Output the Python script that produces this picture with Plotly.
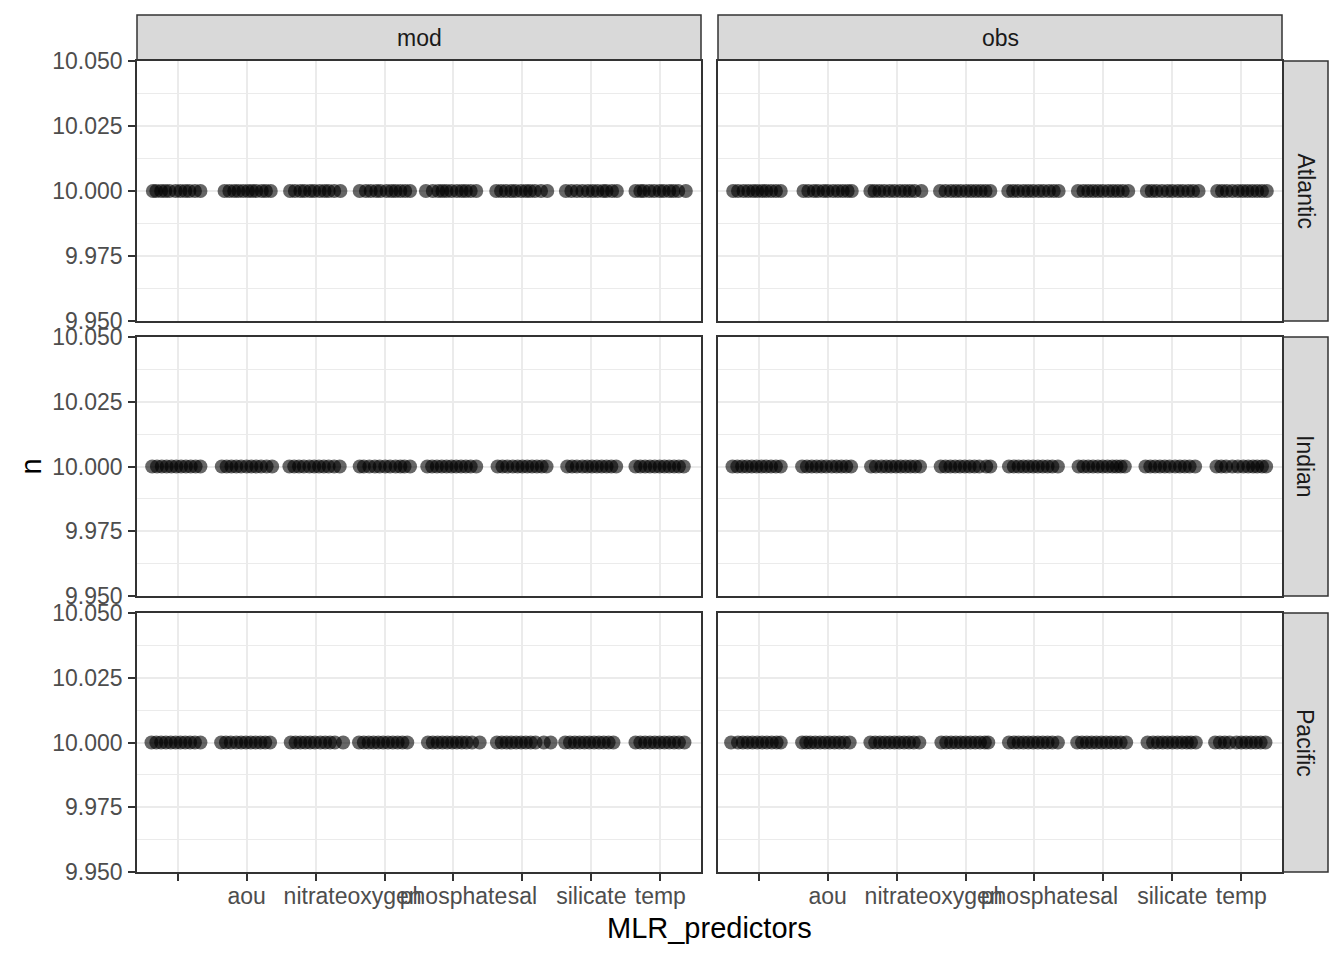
import plotly.graph_objects as go

# ---- data ----
categories = ["", "aou", "nitrate", "oxygen", "phosphate", "sal", "silicate", "temp"]
facet_cols = ["mod", "obs"]
facet_rows = ["Atlantic", "Indian", "Pacific"]
n_value = 10.0
y_ticks = [9.950, 9.975, 10.000, 10.025, 10.050]
y_ticklabels = ["9.950", "9.975", "10.000", "10.025", "10.050"]

# horizontal jitter offsets (category units), per panel and category
mod_atlantic = [
    [-0.36, -0.31, -0.24, -0.18, -0.12, -0.03, 0.04, 0.11, 0.17, 0.25, 0.33],
    [-0.32, -0.25, -0.18, -0.12, -0.05, 0.02, 0.08, 0.14, 0.22, 0.28, 0.35],
    [-0.37, -0.30, -0.22, -0.16, -0.08, -0.02, 0.06, 0.13, 0.19, 0.27, 0.36],
    [-0.36, -0.27, -0.20, -0.12, -0.06, 0.03, 0.10, 0.16, 0.23, 0.30, 0.37],
    [-0.40, -0.30, -0.22, -0.16, -0.10, -0.03, 0.05, 0.12, 0.18, 0.25, 0.33],
    [-0.38, -0.31, -0.24, -0.16, -0.10, -0.02, 0.05, 0.11, 0.18, 0.27, 0.36],
    [-0.37, -0.29, -0.21, -0.13, -0.05, 0.02, 0.09, 0.17, 0.22, 0.30, 0.37],
    [-0.36, -0.29, -0.24, -0.16, -0.09, -0.01, 0.05, 0.13, 0.19, 0.26, 0.37],
]
obs_atlantic = [
    [-0.37, -0.30, -0.22, -0.15, -0.08, -0.02, 0.05, 0.11, 0.18, 0.25, 0.32],
    [-0.35, -0.28, -0.20, -0.14, -0.06, 0.00, 0.08, 0.15, 0.22, 0.29, 0.35],
    [-0.38, -0.32, -0.25, -0.18, -0.10, -0.03, 0.05, 0.12, 0.19, 0.26, 0.36],
    [-0.37, -0.29, -0.21, -0.14, -0.07, 0.01, 0.08, 0.15, 0.22, 0.29, 0.36],
    [-0.38, -0.31, -0.24, -0.16, -0.09, -0.02, 0.06, 0.13, 0.21, 0.28, 0.35],
    [-0.37, -0.29, -0.22, -0.15, -0.08, -0.01, 0.07, 0.14, 0.21, 0.28, 0.36],
    [-0.37, -0.30, -0.23, -0.15, -0.07, 0.00, 0.08, 0.15, 0.23, 0.30, 0.38],
    [-0.35, -0.28, -0.21, -0.13, -0.05, 0.02, 0.09, 0.16, 0.23, 0.30, 0.37],
]
mod_indian = [
    [-0.37, -0.30, -0.23, -0.16, -0.09, -0.02, 0.05, 0.12, 0.19, 0.26, 0.33],
    [-0.36, -0.29, -0.22, -0.15, -0.08, 0.00, 0.07, 0.14, 0.21, 0.29, 0.37],
    [-0.38, -0.31, -0.24, -0.17, -0.09, -0.02, 0.05, 0.12, 0.19, 0.27, 0.35],
    [-0.36, -0.30, -0.22, -0.14, -0.07, 0.01, 0.08, 0.16, 0.23, 0.29, 0.37],
    [-0.38, -0.31, -0.24, -0.17, -0.10, -0.03, 0.04, 0.11, 0.18, 0.25, 0.33],
    [-0.36, -0.29, -0.22, -0.14, -0.07, 0.00, 0.07, 0.14, 0.21, 0.28, 0.35],
    [-0.35, -0.28, -0.21, -0.13, -0.06, 0.01, 0.08, 0.15, 0.22, 0.29, 0.36],
    [-0.36, -0.29, -0.22, -0.15, -0.08, -0.01, 0.06, 0.13, 0.20, 0.27, 0.34],
]
obs_indian = [
    [-0.38, -0.31, -0.24, -0.17, -0.10, -0.03, 0.04, 0.11, 0.18, 0.25, 0.32],
    [-0.37, -0.30, -0.23, -0.16, -0.09, -0.02, 0.06, 0.13, 0.20, 0.27, 0.34],
    [-0.37, -0.30, -0.22, -0.15, -0.08, -0.01, 0.06, 0.13, 0.20, 0.27, 0.34],
    [-0.36, -0.29, -0.22, -0.15, -0.08, -0.01, 0.06, 0.13, 0.20, 0.30, 0.36],
    [-0.37, -0.30, -0.23, -0.16, -0.09, -0.02, 0.05, 0.12, 0.19, 0.26, 0.34],
    [-0.36, -0.29, -0.22, -0.15, -0.08, -0.01, 0.06, 0.13, 0.19, 0.25, 0.31],
    [-0.39, -0.32, -0.25, -0.18, -0.11, -0.04, 0.04, 0.11, 0.18, 0.25, 0.33],
    [-0.36, -0.29, -0.22, -0.13, -0.05, 0.03, 0.10, 0.17, 0.23, 0.30, 0.36],
]
mod_pacific = [
    [-0.38, -0.31, -0.24, -0.17, -0.10, -0.03, 0.04, 0.11, 0.18, 0.25, 0.33],
    [-0.37, -0.30, -0.23, -0.15, -0.08, -0.01, 0.06, 0.13, 0.20, 0.27, 0.34],
    [-0.36, -0.29, -0.22, -0.15, -0.08, -0.01, 0.07, 0.14, 0.21, 0.28, 0.40],
    [-0.37, -0.30, -0.23, -0.16, -0.09, -0.02, 0.05, 0.12, 0.19, 0.26, 0.33],
    [-0.37, -0.30, -0.23, -0.16, -0.09, -0.02, 0.05, 0.12, 0.19, 0.27, 0.38],
    [-0.37, -0.30, -0.23, -0.16, -0.09, -0.02, 0.05, 0.12, 0.19, 0.31, 0.41],
    [-0.38, -0.31, -0.24, -0.17, -0.10, -0.03, 0.04, 0.11, 0.18, 0.25, 0.32],
    [-0.36, -0.29, -0.22, -0.15, -0.08, -0.01, 0.06, 0.13, 0.20, 0.27, 0.35],
]
obs_pacific = [
    [-0.40, -0.30, -0.23, -0.16, -0.09, -0.02, 0.05, 0.12, 0.19, 0.26, 0.32],
    [-0.37, -0.31, -0.25, -0.18, -0.11, -0.04, 0.03, 0.10, 0.17, 0.24, 0.32],
    [-0.38, -0.31, -0.24, -0.17, -0.10, -0.03, 0.04, 0.11, 0.18, 0.25, 0.33],
    [-0.35, -0.28, -0.21, -0.14, -0.07, 0.00, 0.07, 0.14, 0.21, 0.28, 0.33],
    [-0.37, -0.30, -0.23, -0.16, -0.09, -0.02, 0.05, 0.12, 0.19, 0.26, 0.34],
    [-0.38, -0.31, -0.24, -0.17, -0.10, -0.03, 0.04, 0.11, 0.18, 0.25, 0.33],
    [-0.36, -0.28, -0.21, -0.14, -0.07, 0.00, 0.07, 0.14, 0.21, 0.27, 0.34],
    [-0.38, -0.31, -0.24, -0.17, -0.07, 0.00, 0.07, 0.14, 0.21, 0.28, 0.35],
]
panel_offsets = {
    ("Atlantic", "mod"): mod_atlantic, ("Atlantic", "obs"): obs_atlantic,
    ("Indian", "mod"): mod_indian, ("Indian", "obs"): obs_indian,
    ("Pacific", "mod"): mod_pacific, ("Pacific", "obs"): obs_pacific,
}

# ---- layout geometry (pixels) ----
W, H = 1344, 960
col_px = [(137, 701), (718, 1282)]
row_px = [(61, 321), (337, 596), (613, 872)]
strip_top = (15, 60)
strip_right = (1283, 1328)

def fx(p):
    return p / W

def fy(p):
    return 1 - p / H

AX_TEXT = dict(family="Liberation Sans, Arial, sans-serif", size=23, color="#4D4D4D")
STRIP_TEXT = dict(family="Liberation Sans, Arial, sans-serif", size=23, color="#1A1A1A")
TITLE_TEXT = dict(family="Liberation Sans, Arial, sans-serif", size=29, color="#000000")

fig = go.Figure()
shapes = []
annotations = []
layout_axes = {}
idx = 0
for ri, rname in enumerate(facet_rows):
    for ci, cname in enumerate(facet_cols):
        idx += 1
        xa = "x" if idx == 1 else f"x{idx}"
        ya = "y" if idx == 1 else f"y{idx}"
        offs = panel_offsets[(rname, cname)]
        xs, ys = [], []
        for k, group in enumerate(offs):
            for o in group:
                xs.append(k + 1 + o)
                ys.append(n_value)
        fig.add_trace(go.Scatter(
            x=xs, y=ys, mode="markers", xaxis=xa, yaxis=ya, showlegend=False,
            marker=dict(size=14, color="rgba(0,0,0,0.6)", line=dict(width=0)),
            hoverinfo="skip",
        ))
        bottom = ri == len(facet_rows) - 1
        left = ci == 0
        xkey = "xaxis" if idx == 1 else f"xaxis{idx}"
        ykey = "yaxis" if idx == 1 else f"yaxis{idx}"
        layout_axes[xkey] = dict(
            domain=[fx(col_px[ci][0]), fx(col_px[ci][1])],
            anchor=ya, range=[0.41, 8.59], automargin=False, tickangle=0,
            tickmode="array", tickvals=list(range(1, len(categories) + 1)),
            ticktext=categories, showticklabels=bottom, ticklabelstandoff=-4,
            ticks="outside" if bottom else "", ticklen=7, tickwidth=1.5, tickcolor="#333333",
            tickfont=AX_TEXT, showgrid=True, gridcolor="#EBEBEB", gridwidth=2,
            zeroline=False, showline=True, linecolor="#333333", linewidth=1.5, mirror=True,
            fixedrange=True,
        )
        layout_axes[ykey] = dict(
            domain=[fy(row_px[ri][1]), fy(row_px[ri][0])],
            anchor=xa, range=[9.9499999, 10.0500001], automargin=False,
            tickmode="array", tickvals=y_ticks, ticktext=y_ticklabels,
            showticklabels=left, ticks="outside" if left else "", ticklen=7, tickwidth=1.5,
            tickcolor="#333333", tickfont=AX_TEXT, ticklabelstandoff=1,
            showgrid=True, gridcolor="#EBEBEB", gridwidth=2,
            minor=dict(tickvals=[9.9625, 9.9875, 10.0125, 10.0375], showgrid=True,
                       gridcolor="#EBEBEB", gridwidth=1, ticks=""),
            zeroline=False, showline=True, linecolor="#333333", linewidth=1.5, mirror=True,
            fixedrange=True,
        )

# strips
for ci, cname in enumerate(facet_cols):
    shapes.append(dict(type="rect", xref="paper", yref="paper",
                       x0=fx(col_px[ci][0]), x1=fx(col_px[ci][1]),
                       y0=fy(strip_top[1]), y1=fy(strip_top[0]),
                       fillcolor="#D9D9D9", line=dict(color="#333333", width=1.5), layer="below"))
    annotations.append(dict(text=cname, xref="paper", yref="paper",
                            x=fx((col_px[ci][0] + col_px[ci][1]) / 2),
                            y=fy((strip_top[0] + strip_top[1]) / 2),
                            showarrow=False, font=STRIP_TEXT, xanchor="center", yanchor="middle"))
for ri, rname in enumerate(facet_rows):
    shapes.append(dict(type="rect", xref="paper", yref="paper",
                       x0=fx(strip_right[0]), x1=fx(strip_right[1]),
                       y0=fy(row_px[ri][1]), y1=fy(row_px[ri][0]),
                       fillcolor="#D9D9D9", line=dict(color="#333333", width=1.5), layer="below"))
    annotations.append(dict(text=rname, xref="paper", yref="paper",
                            x=fx((strip_right[0] + strip_right[1]) / 2),
                            y=fy((row_px[ri][0] + row_px[ri][1]) / 2),
                            showarrow=False, font=STRIP_TEXT, textangle=90,
                            xanchor="center", yanchor="middle"))

# axis titles
annotations.append(dict(text="MLR_predictors", xref="paper", yref="paper",
                        x=fx((col_px[0][0] + col_px[1][1]) / 2), y=fy(928),
                        showarrow=False, font=TITLE_TEXT, xanchor="center", yanchor="middle"))
annotations.append(dict(text="n", xref="paper", yref="paper",
                        x=fx(30), y=fy((row_px[0][0] + row_px[2][1]) / 2),
                        showarrow=False, font=TITLE_TEXT, textangle=-90,
                        xanchor="center", yanchor="middle"))

fig.update_layout(
    width=W, height=H, margin=dict(l=0, r=0, t=0, b=0, autoexpand=False),
    paper_bgcolor="white", plot_bgcolor="white",
    shapes=shapes, annotations=annotations, showlegend=False,
    **layout_axes,
)
fig.write_html("out.html", config={"displayModeBar": False},
               post_script="document.body.style.margin='0px';document.body.style.padding='0px';")
